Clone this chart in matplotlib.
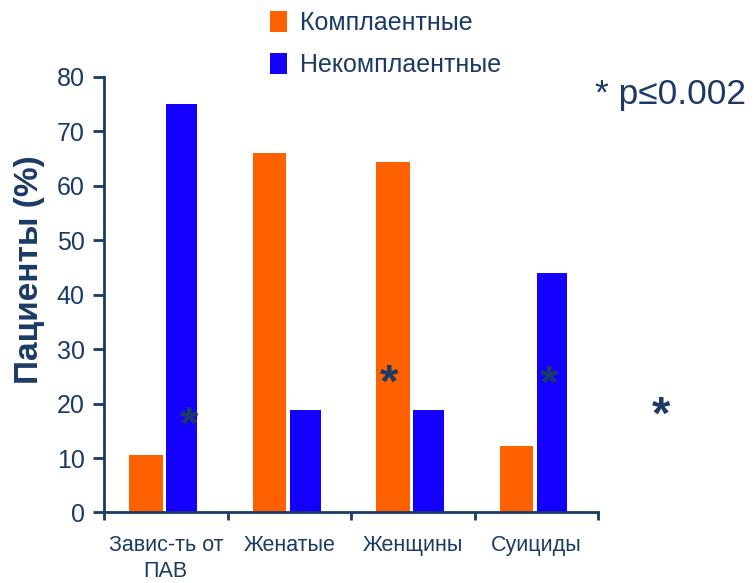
import matplotlib.pyplot as plt
import numpy as np

# данные
categories = ["Завис-ть от\nПАВ", "Женатые", "Женщины", "Суициды"]
compliant = [10.6, 66.0, 64.4, 12.2]
noncompliant = [75.1, 18.8, 18.8, 44.0]
yticks = [0, 10, 20, 30, 40, 50, 60, 70, 80]
# звездочки значимости: (x, y) в координатах данных
stars_x = [0.19, 1.81, 3.10, 4.01]
stars_y = [15.8, 23.5, 23.2, 17.5]

navy = "#1b3a66"
orange = "#ff6000"
blue = "#1400ff"
font = ["Liberation Sans", "DejaVu Sans"]

fig = plt.figure(figsize=(7.56, 5.83), dpi=100)
ax = fig.add_axes([0.1376, 0.121, 0.6534, 0.747])

x = np.arange(len(categories))
ax.bar(x - 0.16, compliant, width=0.27, color=orange, label="Комплаентные")
ax.bar(x + 0.128, noncompliant, width=0.25, color=blue, label="Некомплаентные")

for sx, sy in zip(stars_x, stars_y):
    ax.text(sx, sy, "*", fontsize=34, color=navy, ha="center", va="center",
            family=font, fontweight="bold", clip_on=False)

ax.set_xlim(-0.5, 3.5)
ax.set_ylim(0, 80)
ax.set_yticks(yticks)
ax.set_yticklabels([str(v) for v in yticks], family=font, fontsize=18, color=navy)
ax.set_xticks(np.arange(-0.5, 4, 1))
ax.set_xticklabels([])
ax.set_xticks(x, minor=True)
ax.set_xticklabels(categories, minor=True, family=font, fontsize=15.5, color=navy,
                   linespacing=1.35)
ax.tick_params(axis="x", which="minor", length=0, pad=16)
ax.tick_params(axis="x", which="major", length=6, width=2, color=navy)
ax.tick_params(axis="y", length=8, width=2, color=navy, pad=6)

for s in ["top", "right"]:
    ax.spines[s].set_visible(False)
for s in ["left", "bottom"]:
    ax.spines[s].set_color(navy)
    ax.spines[s].set_linewidth(2)

ax.set_ylabel("Пациенты (%)", fontsize=24, fontweight="bold", color=navy, family=font)
ax.yaxis.set_label_coords(-0.12, 0.557)

leg = fig.legend(loc="upper left", bbox_to_anchor=(0.327, 1.02), frameon=False,
                 prop={"family": font, "size": 18}, handlelength=0.7,
                 handleheight=0.9, handletextpad=0.5, labelspacing=0.72)
for t in leg.get_texts():
    t.set_color(navy)

fig.text(0.787, 0.838, "* p≤0.002", fontsize=25.5, color=navy, ha="left", va="center",
         family=font)

fig.savefig("out.png", dpi=100)
